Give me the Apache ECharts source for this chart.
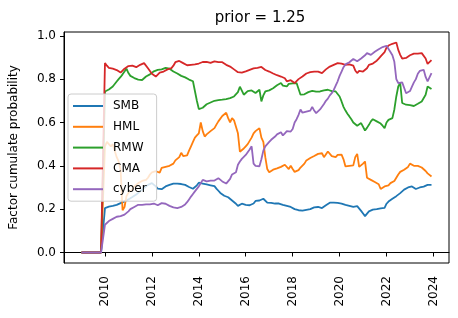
<!DOCTYPE html>
<html>
<head>
<meta charset="utf-8">
<script src="https://cdn.jsdelivr.net/npm/echarts@6/dist/echarts.min.js"></script>
<style>html,body{margin:0;padding:0;background:#fff;}#c{width:458px;height:318px;}</style>
</head>
<body>
<div id="c"></div>
<script>
// Monthly observations, Jan 2009 .. Dec 2023 (one row per year)
const startYear = 2009;
const nMonths = 180;
const seriesNames = ['SMB', 'HML', 'RMW', 'CMA', 'cyber'];
const xTicks = [2010, 2012, 2014, 2016, 2018, 2020, 2022, 2024];
const yTicks = [0.0, 0.2, 0.4, 0.6, 0.8, 1.0];

const SMB = [
0,0,0,0,0,0,0,0,0,0,0,0,
0.205,0.210,0.212,0.214,0.215,0.218,0.220,0.224,0.228,0.232,0.236,0.240,
0.245,0.250,0.256,0.262,0.268,0.275,0.282,0.290,0.298,0.305,0.312,0.318,
0.320,0.316,0.305,0.295,0.290,0.292,0.298,0.305,0.308,0.312,0.316,0.318,
0.316,0.318,0.315,0.316,0.314,0.312,0.310,0.302,0.296,0.294,0.298,0.310,
0.322,0.320,0.318,0.316,0.314,0.312,0.310,0.308,0.306,0.295,0.285,0.275,
0.266,0.262,0.258,0.255,0.248,0.240,0.235,0.225,0.215,0.220,0.225,0.218,
0.220,0.215,0.218,0.222,0.226,0.238,0.243,0.240,0.244,0.248,0.256,0.230,
0.228,0.229,0.228,0.226,0.225,0.226,0.224,0.220,0.218,0.215,0.216,0.210,
0.205,0.200,0.198,0.195,0.194,0.193,0.195,0.197,0.198,0.200,0.204,0.208,
0.212,0.210,0.206,0.205,0.210,0.218,0.225,0.230,0.231,0.230,0.228,0.229,
0.228,0.226,0.222,0.220,0.218,0.215,0.212,0.210,0.212,0.214,0.205,0.192,
0.180,0.168,0.175,0.190,0.195,0.198,0.200,0.200,0.202,0.204,0.205,0.206,
0.225,0.235,0.240,0.248,0.255,0.260,0.268,0.274,0.280,0.290,0.295,0.300,
0.308,0.305,0.298,0.293,0.296,0.300,0.302,0.304,0.310,0.312,0.313,0.312
];
const HML = [
0,0,0,0,0,0,0,0,0,0,0,0,
0.490,0.510,0.500,0.490,0.500,0.470,0.440,0.420,0.380,0.195,0.210,0.260,
0.275,0.270,0.290,0.305,0.310,0.320,0.325,0.330,0.330,0.335,0.345,0.360,
0.370,0.372,0.375,0.372,0.369,0.390,0.390,0.395,0.397,0.400,0.405,0.410,
0.425,0.428,0.440,0.460,0.445,0.452,0.448,0.470,0.490,0.510,0.530,0.540,
0.550,0.600,0.560,0.535,0.545,0.550,0.560,0.565,0.574,0.590,0.605,0.612,
0.630,0.636,0.645,0.620,0.600,0.620,0.610,0.615,0.550,0.465,0.470,0.480,
0.490,0.500,0.515,0.530,0.550,0.560,0.566,0.574,0.530,0.510,0.440,0.385,
0.370,0.375,0.382,0.386,0.388,0.384,0.395,0.400,0.405,0.408,0.385,0.400,
0.385,0.372,0.366,0.380,0.392,0.400,0.410,0.425,0.430,0.436,0.440,0.445,
0.450,0.455,0.460,0.458,0.440,0.445,0.466,0.460,0.445,0.450,0.440,0.450,
0.445,0.452,0.430,0.397,0.398,0.400,0.400,0.402,0.440,0.455,0.395,0.400,
0.410,0.420,0.345,0.340,0.335,0.330,0.325,0.320,0.315,0.293,0.300,0.305,
0.306,0.310,0.320,0.325,0.330,0.345,0.360,0.372,0.380,0.382,0.388,0.395,
0.410,0.405,0.400,0.400,0.400,0.398,0.392,0.385,0.376,0.365,0.358,0.351
];
const RMW = [
0,0,0,0,0,0,0,0,0,0,0,0,
0.743,0.748,0.752,0.758,0.766,0.775,0.789,0.800,0.810,0.822,0.835,0.848,
0.828,0.815,0.808,0.805,0.802,0.798,0.800,0.796,0.802,0.812,0.818,0.822,
0.830,0.836,0.840,0.843,0.846,0.845,0.848,0.852,0.855,0.848,0.842,0.835,
0.830,0.826,0.820,0.815,0.812,0.808,0.804,0.798,0.795,0.790,0.785,0.700,
0.662,0.655,0.668,0.677,0.684,0.690,0.692,0.696,0.700,0.702,0.703,0.705,
0.705,0.704,0.708,0.710,0.712,0.716,0.720,0.728,0.740,0.765,0.774,0.728,
0.736,0.745,0.751,0.748,0.742,0.736,0.745,0.751,0.697,0.725,0.743,0.745,
0.748,0.751,0.758,0.766,0.772,0.774,0.782,0.770,0.762,0.766,0.778,0.782,
0.780,0.778,0.782,0.784,0.728,0.720,0.730,0.736,0.740,0.745,0.746,0.740,
0.742,0.745,0.743,0.742,0.748,0.750,0.751,0.748,0.745,0.746,0.743,0.738,
0.720,0.697,0.672,0.655,0.640,0.628,0.615,0.600,0.597,0.585,0.590,0.597,
0.590,0.563,0.575,0.589,0.605,0.615,0.620,0.605,0.605,0.595,0.585,0.574,
0.600,0.612,0.605,0.620,0.660,0.720,0.766,0.782,0.690,0.688,0.682,0.682,
0.680,0.678,0.676,0.680,0.686,0.692,0.697,0.700,0.728,0.766,0.774,0.754
];
const CMA = [
0,0,0,0,0,0,0,0,0,0,0,0,
0.874,0.862,0.852,0.856,0.848,0.845,0.842,0.838,0.830,0.838,0.848,0.852,
0.860,0.869,0.862,0.858,0.855,0.862,0.866,0.870,0.874,0.868,0.850,0.843,
0.825,0.818,0.812,0.820,0.830,0.836,0.835,0.840,0.845,0.852,0.851,0.862,
0.878,0.886,0.884,0.876,0.874,0.870,0.864,0.862,0.866,0.870,0.868,0.866,
0.872,0.876,0.879,0.877,0.880,0.878,0.875,0.879,0.882,0.880,0.878,0.881,
0.878,0.870,0.866,0.862,0.858,0.852,0.845,0.838,0.832,0.828,0.830,0.834,
0.836,0.838,0.843,0.846,0.850,0.855,0.852,0.858,0.856,0.848,0.842,0.836,
0.835,0.830,0.826,0.822,0.818,0.815,0.812,0.808,0.804,0.790,0.785,0.795,
0.788,0.782,0.790,0.800,0.808,0.812,0.818,0.826,0.830,0.832,0.838,0.835,
0.838,0.835,0.832,0.828,0.836,0.845,0.852,0.858,0.862,0.866,0.870,0.874,
0.879,0.872,0.868,0.866,0.870,0.868,0.874,0.862,0.840,0.828,0.838,0.843,
0.835,0.828,0.850,0.866,0.870,0.872,0.874,0.885,0.895,0.905,0.910,0.925,
0.945,0.955,0.960,0.963,0.966,0.969,0.935,0.912,0.895,0.889,0.898,0.905,
0.910,0.915,0.918,0.920,0.918,0.921,0.920,0.912,0.895,0.870,0.866,0.888
];
const cyber = [
0,0,0,0,0,0,0,0,0,0,0,0,
0.128,0.136,0.145,0.150,0.155,0.162,0.165,0.164,0.168,0.172,0.175,0.182,
0.190,0.200,0.205,0.210,0.218,0.220,0.222,0.220,0.223,0.222,0.218,0.222,
0.222,0.226,0.222,0.218,0.222,0.228,0.232,0.225,0.222,0.215,0.210,0.208,
0.206,0.205,0.212,0.210,0.214,0.222,0.232,0.245,0.258,0.270,0.282,0.290,
0.305,0.320,0.335,0.330,0.328,0.330,0.332,0.330,0.332,0.338,0.343,0.340,
0.328,0.322,0.318,0.310,0.340,0.360,0.365,0.370,0.405,0.420,0.432,0.440,
0.450,0.455,0.475,0.490,0.410,0.400,0.405,0.398,0.430,0.470,0.490,0.500,
0.510,0.520,0.528,0.535,0.545,0.550,0.555,0.540,0.550,0.560,0.565,0.558,
0.570,0.600,0.615,0.635,0.660,0.645,0.640,0.650,0.648,0.655,0.672,0.655,
0.643,0.650,0.660,0.668,0.685,0.700,0.710,0.725,0.735,0.750,0.770,0.790,
0.815,0.835,0.855,0.868,0.874,0.878,0.882,0.893,0.890,0.882,0.890,0.895,
0.900,0.910,0.920,0.916,0.912,0.920,0.926,0.932,0.938,0.943,0.948,0.952,
0.954,0.945,0.925,0.910,0.880,0.800,0.782,0.785,0.785,0.760,0.735,0.728,
0.745,0.765,0.785,0.800,0.825,0.838,0.842,0.843,0.810,0.790,0.785,0.828
];

const colors = ['#1f77b4', '#ff7f0e', '#2ca02c', '#d62728', '#9467bd'];
const allValues = [SMB, HML, RMW, CMA, cyber];

const xs = [];
for (let m = 0; m < nMonths; m++) xs.push(startYear + m / 12);

const FONT = 'DejaVu Sans';
const chart = echarts.init(document.getElementById('c'), null, {renderer: 'canvas'});

const xMin = xs[0], xMax = xs[xs.length - 1];
const xPad = (xMax - xMin) * 0.05;
let yMaxData = 0;
allValues.forEach(a => a.forEach(v => { if (v > yMaxData) yMaxData = v; }));
const yPad = yMaxData * 0.05;

chart.setOption({
  animation: false,
  backgroundColor: '#fff',
  color: colors,
  title: {
    text: 'prior = 1.25',
    left: 255, top: 6, textAlign: 'center',
    textStyle: {fontFamily: FONT, fontSize: 15, fontWeight: 'normal', color: '#000'}
  },
  grid: {left: 61, top: 32, width: 388, height: 231, show: true, borderColor: '#000', borderWidth: 1, backgroundColor: 'transparent'},
  legend: {
    orient: 'vertical', left: 68, top: 94,
    data: seriesNames.map(n => ({name: n, icon: 'rect'})),
    itemWidth: 30, itemHeight: 2, itemGap: 6.8,
    padding: [5, 10, 5, 5],
    backgroundColor: 'rgba(255,255,255,0.8)',
    borderColor: '#cccccc', borderWidth: 1, borderRadius: 3,
    textStyle: {fontFamily: FONT, fontSize: 12, color: '#000', lineHeight: 14, padding: [0, 0, 0, 5]}
  },
  xAxis: {
    type: 'value', min: xMin - xPad, max: xMax + xPad,
    splitLine: {show: false},
    axisLine: {show: true, lineStyle: {color: '#000', width: 1}},
    axisTick: {show: true, length: 4, customValues: xTicks, lineStyle: {color: '#000', width: 1}},
    axisLabel: {customValues: xTicks, rotate: 90, margin: 13, fontFamily: FONT, fontSize: 12, color: '#000', formatter: v => String(Math.round(v))}
  },
  yAxis: {
    type: 'value', min: -yPad, max: yMaxData + yPad,
    name: 'Factor cumulate probability', nameLocation: 'middle', nameGap: 44,
    nameTextStyle: {fontFamily: FONT, fontSize: 12, color: '#000'},
    splitLine: {show: false},
    axisLine: {show: true, lineStyle: {color: '#000', width: 1}},
    axisTick: {show: true, length: 4, customValues: yTicks, lineStyle: {color: '#000', width: 1}},
    axisLabel: {customValues: yTicks, margin: 8, fontFamily: FONT, fontSize: 12, color: '#000', formatter: v => v.toFixed(1)}
  },
  series: seriesNames.map((n, i) => ({
    name: n, type: 'line', showSymbol: false, symbol: 'none',
    lineStyle: {width: 1.8, color: colors[i]},
    itemStyle: {color: colors[i]},
    data: xs.map((x, k) => [x, allValues[i][k]])
  }))
});
</script>
</body>
</html>
